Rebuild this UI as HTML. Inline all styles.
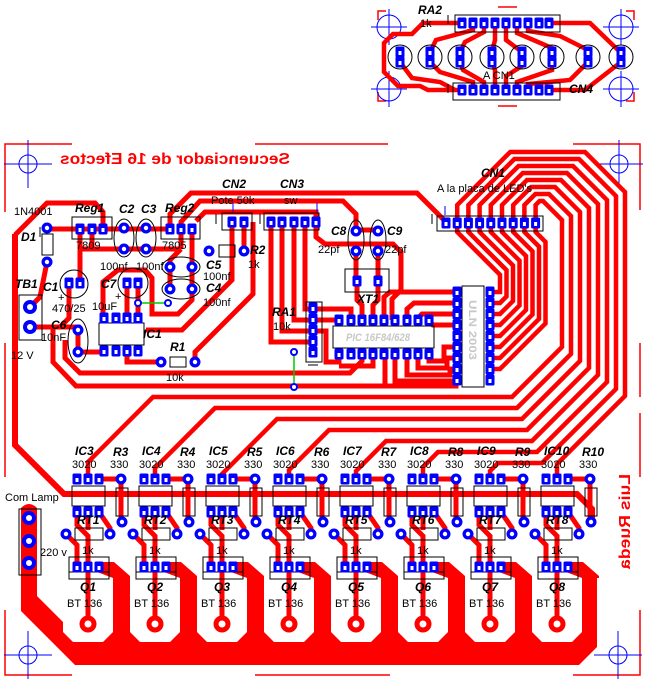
<!DOCTYPE html>
<html><head><meta charset="utf-8"><style>
html,body{margin:0;padding:0;background:#fff;}
svg{display:block;}
text{font-family:"Liberation Sans",sans-serif;font-size:11px;fill:#000;}
.b{font-weight:bold;font-style:italic;font-size:12px;}
</style></head><body>
<svg width="651" height="682" viewBox="0 0 651 682" xmlns="http://www.w3.org/2000/svg">
<defs>
<g id="sp"><rect x="-4.5" y="-5.5" width="9" height="11" rx="1.5" fill="#00f"/><rect x="-1.5" y="-1" width="3" height="4" fill="#fff"/></g>
<g id="cp"><circle r="5.5" fill="#00f"/><circle r="2.2" fill="#fff"/></g>
<g id="ch">
<path d="M63 570H113V632L103 642H73L63 632Z" fill="#fff"/>
<path d="M97 562H114L130 576V578H113L97 572Z" fill="#f00"/>
<g fill="none" stroke="#f00" stroke-width="5">
<path d="M99 479H121"/><path d="M121 479V522"/>
<path d="M77 512V525L88 536V567"/><path d="M88 512V530"/>
<path d="M99 512L110 528V534"/><path d="M66 534L77 545V567"/><path d="M88 567V624"/>
</g>
<g fill="none" stroke="#000" stroke-width="1">
<rect x="72" y="486" width="33" height="20"/><rect x="116" y="488" width="12" height="28"/>
<rect x="75" y="528" width="28" height="12"/><rect x="69" y="557" width="40" height="22"/><path d="M69 572H109"/>
</g>
<use href="#sp" x="77" y="479"/><use href="#sp" x="88" y="479"/><use href="#sp" x="99" y="479"/>
<use href="#sp" x="77" y="512"/><use href="#sp" x="88" y="512"/><use href="#sp" x="99" y="512"/>
<use href="#sp" x="77" y="567"/><use href="#sp" x="88" y="567"/><use href="#sp" x="99" y="567"/>
<use href="#cp" x="121" y="479"/><use href="#cp" x="122" y="522"/><use href="#cp" x="66" y="534"/><use href="#cp" x="110" y="534"/>
<circle cx="88" cy="624" r="8.5" fill="#f00"/><circle cx="88" cy="624" r="3.5" fill="#fff"/>
</g>
<g id="xh"><circle r="9" fill="none" stroke="#00f"/><path d="M-24 0H24M0 -24V24" stroke="#00f"/></g>
<g id="xh2"><circle r="12" fill="none" stroke="#00f"/><path d="M-18 0H18M0 -18V18" stroke="#00f"/></g>
</defs>

<!-- ===== top small board ===== -->
<g fill="none" stroke="#f00" stroke-width="1.5">
<path d="M378 20V11H386M378 92V101H386M634 20V11H626M634 92V101H626M498 7H517M498 106H517"/>
</g>
<use href="#xh2" x="389" y="27"/><use href="#xh2" x="621" y="27"/><use href="#xh2" x="389" y="89"/><use href="#xh2" x="621" y="89"/>
<g fill="none" stroke="#f00" stroke-width="4.5">
<path d="M462 23H423L412 34H393L384 43V72L398 86H420L428 90H462"/>
<path d="M549 23H590L618 50"/><path d="M549 90H585L621 62"/>
<path d="M473 23V30L436 40L430 52"/><path d="M484 23V32L465 42L460 52"/>
<path d="M495 23V40L492 52"/><path d="M506 23V40L522 52"/><path d="M517 23V33L552 48V52"/>
<path d="M528 23V31L560 36L588 50"/>
<path d="M473 90V82L440 72L430 62"/><path d="M484 90V82L463 70L460 62"/><path d="M495 90V70L492 62"/>
<path d="M506 90V76L522 66V62"/><path d="M517 90V82L552 70V62"/><path d="M528 90V84L570 80L588 62"/>
<path d="M400 62L412 78L440 82L455 90"/>
</g>
<g fill="none" stroke="#000">
<rect x="455" y="15" width="105" height="17"/><rect x="453" y="83" width="107" height="17"/>
<circle cx="400" cy="57" r="12"/><circle cx="430" cy="57" r="12"/><circle cx="460" cy="57" r="12"/><circle cx="492" cy="57" r="12"/><circle cx="522" cy="57" r="12"/><circle cx="552" cy="57" r="12"/><circle cx="588" cy="57" r="12"/><circle cx="621" cy="57" r="12"/>
<path d="M448 15V24M448 84V93"/>
</g>
<g>
<use href="#sp" x="462" y="23"/><use href="#sp" x="473" y="23"/><use href="#sp" x="484" y="23"/><use href="#sp" x="495" y="23"/><use href="#sp" x="506" y="23"/><use href="#sp" x="517" y="23"/><use href="#sp" x="528" y="23"/><use href="#sp" x="539" y="23"/><use href="#sp" x="549" y="23"/>
<use href="#sp" x="462" y="90"/><use href="#sp" x="473" y="90"/><use href="#sp" x="484" y="90"/><use href="#sp" x="495" y="90"/><use href="#sp" x="506" y="90"/><use href="#sp" x="517" y="90"/><use href="#sp" x="528" y="90"/><use href="#sp" x="539" y="90"/><use href="#sp" x="549" y="90"/>
<use href="#sp" x="400" y="52"/><use href="#sp" x="400" y="62"/><use href="#sp" x="430" y="52"/><use href="#sp" x="430" y="62"/><use href="#sp" x="460" y="52"/><use href="#sp" x="460" y="62"/><use href="#sp" x="492" y="52"/><use href="#sp" x="492" y="62"/>
<use href="#sp" x="522" y="52"/><use href="#sp" x="522" y="62"/><use href="#sp" x="552" y="52"/><use href="#sp" x="552" y="62"/><use href="#sp" x="588" y="52"/><use href="#sp" x="588" y="62"/><use href="#sp" x="621" y="52"/><use href="#sp" x="621" y="62"/>
</g>
<text class="b" x="418" y="14">RA2</text><text x="420" y="27">1k</text>
<text x="483" y="79">A CN1</text><text class="b" x="569" y="93">CN4</text>

<!-- ===== main board border ===== -->
<g fill="none" stroke="#f00" stroke-width="1.5">
<path d="M5 212V144H72M255 144H388M573 144H640V210"/>
<path d="M5 343V477M640 343V397M640 413V477"/>
<path d="M5 610V675H72M255 675H390M573 675H640V610"/>
</g>
<use href="#xh" x="28" y="164"/><use href="#xh" x="619" y="164"/><use href="#xh" x="28" y="655"/><use href="#xh" x="618" y="655"/>

<text transform="matrix(-1 0 0 1 352 0)" x="62" y="164" style="font-size:16px;font-weight:bold;fill:#f00" textLength="230" lengthAdjust="spacingAndGlyphs">Secuenciador de 16 Efectos</text>
<text transform="translate(630,474) rotate(90) scale(1,-1)" x="0" y="0" style="font-size:16px;font-weight:bold;fill:#f00" textLength="95" lengthAdjust="spacingAndGlyphs">Luis Rueda</text>

<!-- big lamp common area -->
<path d="M21 508Q29 500 37 508V596L63 622V576H597V647L579 665H75L21 611Z" fill="#f00"/>

<!-- fan traces -->
<g fill="none" stroke="#f00" stroke-width="4.5">
<path d="M88 479V462L153 397H512L562 347V220L543 201H539.6L535.6 205V222"/>
<path d="M155 479V468L215 408H517L571 354V216L549 194H535.4L524.4 205V222"/>
<path d="M222 479V474L277 419H522L580 361V212L555 187H531.2L513.2 205V222"/>
<path d="M289 479V470L329 430H527L589 368V208L561 180H527L502 205V222"/>
<path d="M356 479V471L386 441H532L598 375V204L567 173H522.8L490.8 205V222"/>
<path d="M423 479V467L438 452H537L607 382V200L573 166H518.6L479.6 205V222"/>
<path d="M490 479V471L498 463H542L616 389V196L579 159H514.4L468.4 205V222"/>
<path d="M557 479V464L625 396V192L585 152H510.2L457.2 205V222"/>
<!-- ULN outputs to CN1 -->
<path d="M457.2 222V232L500 274.8V292H490"/>
<path d="M468.4 222V232L506.5 270.1V296.5L500 303H490"/>
<path d="M479.6 222V232L513 265.4V301L500 314H490"/>
<path d="M490.8 222V232L519.5 260.7V305.5L500 325H490"/>
<path d="M502 222V232L526 256V310L500 336H490"/>
<path d="M513.2 222V232L532.5 251.3V314.5L500 347H490"/>
<path d="M524.4 222V232L539 246.6V319L500 358H490"/>
<path d="M535.6 222V232L545.5 241.9V323.5L500 369H490"/>
</g>
<!-- bus -->
<path d="M15 234V445L64 494H577L592 509V522" fill="none" stroke="#f00" stroke-width="6"/>

<!-- channels -->
<use href="#ch" x="0"/><use href="#ch" x="67"/><use href="#ch" x="134"/><use href="#ch" x="201"/>
<use href="#ch" x="268"/><use href="#ch" x="335"/><use href="#ch" x="402"/><use href="#ch" x="469"/>

<!-- left/control traces -->
<g fill="none" stroke="#f00" stroke-width="5">
<path d="M103 229V212L95 203H47L15 235"/>
<path d="M47 229H170"/>
<path d="M80 229V283"/><path d="M80 249H181"/><path d="M92 229V249"/>
<path d="M181 229V249"/>
<path d="M47 262L40 297L30 307"/>
<path d="M30 327H78V352H104"/>
<path d="M69 283V318L60 327"/>
<path d="M53 327V362L76 386H456L456 380"/>
<path d="M65 340V358L80 373H350L362 361V354"/>
<path d="M385 354V386"/>
<path d="M192 229V289L192 300L178 314H152V278L145 270H118L103 282V318"/>
<path d="M181 249L170 260V289"/>
<path d="M127 283V318"/><path d="M138 283V318"/>
<path d="M127 351V362H161"/>
<path d="M195 362V352L253 294V222"/>
<path d="M232 222V280L182 330H146"/>
<path d="M244 222V251"/>
<path d="M170 227V214L191 193H417L446 222"/>
<path d="M181 229V222L200 201H343L356 214V230"/>
<path d="M316 222V212H205L196 221"/>
<path d="M356 230H378"/>
<path d="M316 222V237L325 244H393L401 252V290L392 299V320"/>
<path d="M305 222V309H313"/><path d="M294 222V320H313"/><path d="M282 222V331H313"/><path d="M271 222V342H313"/>
<path d="M313 309H351V320"/><path d="M313 320H339"/>
<path d="M313 331H326V362H339V354"/>
<path d="M356 251V281"/><path d="M378 251V281"/>
<path d="M357 281V300L362 305V320"/><path d="M378 281V300L373 305V320"/>
<path d="M384 320V297L390 292H457"/><path d="M407 320V309L414 303H457"/><path d="M418 320V318L422 314H457"/>
<path d="M429 320L433 325H457"/>
<path d="M429 354V361H444V347H457"/><path d="M418 354V368H447V358H457"/><path d="M407 354V375H450V369H457"/>
<path d="M395 354V381H452L457 380"/>
<path d="M373 354V366H339"/>
</g>

<!-- outlines -->
<g fill="none" stroke="#000">
<rect x="437" y="216" width="106" height="15"/>
<rect x="222" y="213" width="30" height="17"/><rect x="264" y="213" width="55" height="17"/>
<rect x="72" y="217" width="40" height="22"/><rect x="161" y="217" width="39" height="22"/>
<ellipse cx="124" cy="238" rx="10" ry="19"/><ellipse cx="146" cy="238" rx="10" ry="19"/>
<rect x="42" y="234" width="11" height="21"/>
<rect x="19" y="295" width="23" height="45"/>
<circle cx="74" cy="284" r="14"/><circle cx="133" cy="283" r="15"/>
<ellipse cx="78" cy="341" rx="10" ry="22"/>
<rect x="99" y="323" width="45" height="22"/>
<rect x="170" y="357" width="16" height="10"/>
<ellipse cx="181" cy="267" rx="19" ry="10"/><ellipse cx="181" cy="289" rx="19" ry="10"/>
<rect x="219" y="245" width="16" height="12"/>
<rect x="306" y="302" width="16" height="60"/>
<ellipse cx="356" cy="240" rx="8" ry="20"/><ellipse cx="378" cy="240" rx="8" ry="20"/>
<rect x="345" y="269" width="44" height="23"/>
<rect x="333" y="326" width="101" height="22"/>
<rect x="462" y="286" width="22" height="101"/>
<rect x="19" y="509" width="22" height="66"/>
<path d="M432 214V224M260 214V224M216 214V224M308 365H318M40 227V237"/>
</g>
<path d="M445 206V215M233 203V212M317 203V212" stroke="#00f"/>

<!-- green jumpers -->
<path d="M138 303H168M294 352V387" stroke="#0c0" stroke-width="1.5"/>
<g fill="#fff" stroke="#00f" stroke-width="2"><circle cx="138" cy="303" r="3"/><circle cx="168" cy="303" r="3"/><circle cx="294" cy="352" r="3"/><circle cx="294" cy="387" r="3"/></g>

<!-- pads -->
<g>
<use href="#sp" x="446" y="223"/><use href="#sp" x="457.2" y="223"/><use href="#sp" x="468.4" y="223"/><use href="#sp" x="479.6" y="223"/><use href="#sp" x="490.8" y="223"/><use href="#sp" x="502" y="223"/><use href="#sp" x="513.2" y="223"/><use href="#sp" x="524.4" y="223"/><use href="#sp" x="535.6" y="223"/>
<use href="#sp" x="232" y="222"/><use href="#sp" x="244" y="222"/>
<use href="#sp" x="271" y="222"/><use href="#sp" x="282" y="222"/><use href="#sp" x="294" y="222"/><use href="#sp" x="305" y="222"/><use href="#sp" x="316" y="222"/>
<use href="#sp" x="80" y="229"/><use href="#sp" x="92" y="229"/><use href="#sp" x="103" y="229"/>
<use href="#sp" x="170" y="229"/><use href="#sp" x="181" y="229"/><use href="#sp" x="192" y="229"/>
<use href="#cp" x="124" y="228"/><use href="#cp" x="124" y="249"/><use href="#cp" x="146" y="228"/><use href="#cp" x="146" y="249"/>
<use href="#cp" x="47" y="228"/><use href="#cp" x="47" y="262"/>
<use href="#sp" x="69" y="283"/><use href="#sp" x="80" y="283"/><use href="#sp" x="127" y="283"/><use href="#sp" x="138" y="283"/>
<use href="#cp" x="78" y="330"/><use href="#cp" x="78" y="352"/>
<use href="#sp" x="104" y="318"/><use href="#sp" x="116" y="318"/><use href="#sp" x="127" y="318"/><use href="#sp" x="138" y="318"/>
<use href="#sp" x="104" y="351"/><use href="#sp" x="116" y="351"/><use href="#sp" x="127" y="351"/><use href="#sp" x="138" y="351"/>
<use href="#cp" x="161" y="362"/><use href="#cp" x="195" y="362"/>
<use href="#cp" x="170" y="267"/><use href="#cp" x="192" y="267"/><use href="#cp" x="170" y="289"/><use href="#cp" x="192" y="289"/>
<use href="#cp" x="209" y="251"/><use href="#cp" x="244" y="251"/>
<use href="#sp" x="313" y="308"/><use href="#sp" x="313" y="319"/><use href="#sp" x="313" y="330"/><use href="#sp" x="313" y="341"/><use href="#sp" x="313" y="352"/>
<use href="#cp" x="356" y="231"/><use href="#cp" x="356" y="251"/><use href="#cp" x="378" y="231"/><use href="#cp" x="378" y="251"/>
<use href="#sp" x="357" y="281"/><use href="#sp" x="378" y="281"/>
<use href="#sp" x="339" y="320"/><use href="#sp" x="351" y="320"/><use href="#sp" x="362" y="320"/><use href="#sp" x="373" y="320"/><use href="#sp" x="384" y="320"/><use href="#sp" x="395" y="320"/><use href="#sp" x="407" y="320"/><use href="#sp" x="418" y="320"/><use href="#sp" x="429" y="320"/>
<use href="#sp" x="339" y="354"/><use href="#sp" x="351" y="354"/><use href="#sp" x="362" y="354"/><use href="#sp" x="373" y="354"/><use href="#sp" x="384" y="354"/><use href="#sp" x="395" y="354"/><use href="#sp" x="407" y="354"/><use href="#sp" x="418" y="354"/><use href="#sp" x="429" y="354"/>
<use href="#sp" x="457" y="292"/><use href="#sp" x="457" y="303"/><use href="#sp" x="457" y="314"/><use href="#sp" x="457" y="325"/><use href="#sp" x="457" y="336"/><use href="#sp" x="457" y="347"/><use href="#sp" x="457" y="358"/><use href="#sp" x="457" y="369"/><use href="#sp" x="457" y="380"/>
<use href="#sp" x="490" y="292"/><use href="#sp" x="490" y="303"/><use href="#sp" x="490" y="314"/><use href="#sp" x="490" y="325"/><use href="#sp" x="490" y="336"/><use href="#sp" x="490" y="347"/><use href="#sp" x="490" y="358"/><use href="#sp" x="490" y="369"/><use href="#sp" x="490" y="380"/>
</g>
<g>
<circle cx="30" cy="307" r="7" fill="#00f"/><circle cx="30" cy="307" r="3" fill="#fff"/>
<circle cx="30" cy="327" r="7" fill="#00f"/><circle cx="30" cy="327" r="3" fill="#fff"/>
<circle cx="29" cy="518" r="7" fill="#00f"/><circle cx="29" cy="518" r="3" fill="#fff"/>
<circle cx="29" cy="541" r="7" fill="#00f"/><circle cx="29" cy="541" r="3" fill="#fff"/>
<circle cx="29" cy="563" r="7" fill="#00f"/><circle cx="29" cy="563" r="3" fill="#fff"/>
</g>

<!-- labels main -->
<text class="b" x="481" y="177">CN1</text><text x="437" y="192">A la placa de LED's</text>
<text class="b" x="222" y="188">CN2</text><text x="211" y="204">Pote 50k</text>
<text class="b" x="280" y="188">CN3</text><text x="284" y="204">sw</text>
<text x="14" y="215">1N4001</text><text class="b" x="21" y="241">D1</text>
<text class="b" x="75" y="212">Reg1</text><text x="76" y="249">7809</text>
<text class="b" x="119" y="213">C2</text><text class="b" x="141" y="213">C3</text>
<text class="b" x="165" y="212">Reg2</text><text x="162" y="249">7805</text>
<text x="100" y="270">100nf</text><text x="136" y="270">100nf</text>
<text class="b" x="15" y="288">TB1</text><text class="b" x="43" y="291">C1</text>
<text x="58" y="301">+</text><text x="52" y="312">470/25</text>
<text class="b" x="101" y="288">C7</text><text x="115" y="300">+</text><text x="92" y="310">10uF</text>
<text class="b" x="51" y="329">C6</text><text x="41" y="341">10nF</text><text x="11" y="359">12 V</text>
<text class="b" x="143" y="338">IC1</text>
<text class="b" x="170" y="351">R1</text><text x="166" y="381">10k</text>
<text class="b" x="206" y="269">C5</text><text x="203" y="280">100nf</text>
<text class="b" x="206" y="292">C4</text><text x="203" y="306">100nf</text>
<text class="b" x="250" y="254">R2</text><text x="248" y="268">1k</text>
<text class="b" x="272" y="316">RA1</text><text x="273" y="330">10k</text>
<text class="b" x="331" y="235">C8</text><text x="318" y="253">22pf</text>
<text class="b" x="387" y="235">C9</text><text x="385" y="253">22pf</text>
<text class="b" x="357" y="303">XT1</text>
<text x="346" y="341" style="font-style:italic;font-weight:bold;fill:#c8c8c8" textLength="64" lengthAdjust="spacingAndGlyphs">PIC 16F84/628</text>
<text transform="translate(469,300) rotate(90)" x="0" y="0" style="font-weight:bold;fill:#c8c8c8" textLength="60" lengthAdjust="spacingAndGlyphs">ULN 2003</text>
<text x="5" y="501">Com Lamp</text><text x="40" y="556">220 v</text>

<!-- channel labels -->
<g>
<text class="b" x="75" y="455">IC3</text><text x="72" y="468">3020</text><text class="b" x="113" y="456">R3</text><text x="110" y="468">330</text><text class="b" x="77" y="524">RT1</text><text x="82" y="554">1k</text><text class="b" x="80" y="591">Q1</text><text x="67" y="607">BT 136</text>
<text class="b" x="142" y="455">IC4</text><text x="139" y="468">3020</text><text class="b" x="180" y="456">R4</text><text x="177" y="468">330</text><text class="b" x="144" y="524">RT2</text><text x="149" y="554">1k</text><text class="b" x="147" y="591">Q2</text><text x="134" y="607">BT 136</text>
<text class="b" x="209" y="455">IC5</text><text x="206" y="468">3020</text><text class="b" x="247" y="456">R5</text><text x="244" y="468">330</text><text class="b" x="211" y="524">RT3</text><text x="216" y="554">1k</text><text class="b" x="214" y="591">Q3</text><text x="201" y="607">BT 136</text>
<text class="b" x="276" y="455">IC6</text><text x="273" y="468">3020</text><text class="b" x="314" y="456">R6</text><text x="311" y="468">330</text><text class="b" x="278" y="524">RT4</text><text x="283" y="554">1k</text><text class="b" x="281" y="591">Q4</text><text x="268" y="607">BT 136</text>
<text class="b" x="343" y="455">IC7</text><text x="340" y="468">3020</text><text class="b" x="381" y="456">R7</text><text x="378" y="468">330</text><text class="b" x="345" y="524">RT5</text><text x="350" y="554">1k</text><text class="b" x="348" y="591">Q5</text><text x="335" y="607">BT 136</text>
<text class="b" x="410" y="455">IC8</text><text x="407" y="468">3020</text><text class="b" x="448" y="456">R8</text><text x="445" y="468">330</text><text class="b" x="412" y="524">RT6</text><text x="417" y="554">1k</text><text class="b" x="415" y="591">Q6</text><text x="402" y="607">BT 136</text>
<text class="b" x="477" y="455">IC9</text><text x="474" y="468">3020</text><text class="b" x="515" y="456">R9</text><text x="512" y="468">330</text><text class="b" x="479" y="524">RT7</text><text x="484" y="554">1k</text><text class="b" x="482" y="591">Q7</text><text x="469" y="607">BT 136</text>
<text class="b" x="544" y="455">IC10</text><text x="541" y="468">3020</text><text class="b" x="582" y="456">R10</text><text x="579" y="468">330</text><text class="b" x="546" y="524">RT8</text><text x="551" y="554">1k</text><text class="b" x="549" y="591">Q8</text><text x="536" y="607">BT 136</text>
</g>
</svg>
</body></html>
